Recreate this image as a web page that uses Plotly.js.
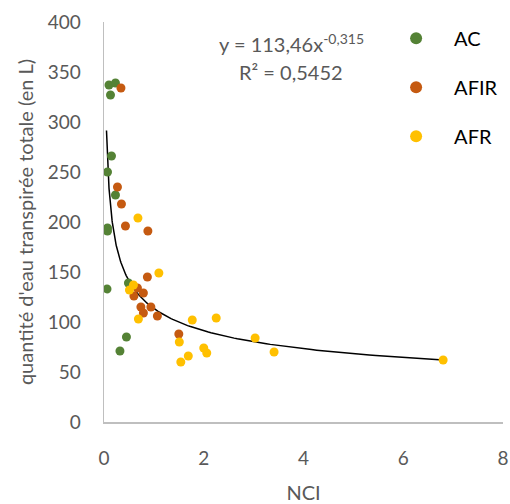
<!DOCTYPE html>
<html>
<head>
<meta charset="utf-8">
<script src="https://cdn.plot.ly/plotly-3.0.1.min.js"></script>
<style>html,body{margin:0;padding:0;background:#fff;}#chart{width:510px;height:504px;}</style>
</head>
<body>
<div id="chart"></div>
<script>
// Series names
const seriesNames = ["AC", "AFIR", "AFR"];
const seriesColors = ["#548235", "#C55A11", "#FFC000"];

// AC (green)
const acNCI = [0.10, 0.23, 0.13, 0.15, 0.07, 0.23, 0.07, 0.07, 0.06, 0.49, 0.45, 0.32];
const acWater = [337, 339, 327, 266, 250, 227, 194, 191, 133, 139, 85, 71];

// AFIR (orange)
const afirNCI = [0.34, 0.27, 0.35, 0.43, 0.88, 0.87, 0.67, 0.79, 0.60, 0.74, 0.94, 0.79, 1.07, 1.50];
const afirWater = [334, 235, 218, 196, 191, 145, 134, 129, 126, 115, 115, 109, 106, 88];

// AFR (yellow)
const afrNCI = [0.68, 1.10, 0.59, 0.51, 0.69, 1.77, 2.25, 1.51, 2.00, 2.06, 1.69, 1.54, 3.03, 3.41, 6.80];
const afrWater = [204, 149, 137, 132, 103, 102, 104, 80, 74, 69, 66, 60, 84, 70, 62];

// Power trendline y = a * x^b (from the chart's equation)
const trendCoef = [113.46, -0.315];
const trendRange = [0.05, 6.80];
const equationText = "y = 113,46x<sup>-0,315</sup>";
const r2Text = "R² = 0,5452";

const xTicks = [0, 2, 4, 6, 8];
const yTicks = [0, 50, 100, 150, 200, 250, 300, 350, 400];

const trendX = [];
const nSteps = 200;
for (let i = 0; i <= nSteps; i++) {
  const t = i / nSteps;
  trendX.push(Math.exp(Math.log(trendRange[0]) + t * (Math.log(trendRange[1]) - Math.log(trendRange[0]))));
}
const trendY = trendX.map(x => trendCoef[0] * Math.pow(x, trendCoef[1]));

const xs = [acNCI, afirNCI, afrNCI];
const ys = [acWater, afirWater, afrWater];

const traces = [{
  x: trendX, y: trendY, mode: "lines", type: "scatter",
  line: {color: "#000000", width: 1.5}, showlegend: false, hoverinfo: "skip"
}];
for (let i = 0; i < 3; i++) {
  traces.push({
    x: xs[i], y: ys[i], mode: "markers", type: "scatter", name: seriesNames[i],
    legendgroup: "g" + i,
    marker: {color: seriesColors[i], size: 9}
  });
}

const FONT = "Lato, 'Open Sans', sans-serif";
const tickFont = {family: FONT, size: 19, color: "#595959"};
const layout = {
  width: 510, height: 504,
  margin: {l: 104, r: 7, t: 22, b: 82, autoexpand: false},
  paper_bgcolor: "#ffffff", plot_bgcolor: "#ffffff",
  font: {family: FONT, color: "#595959"},
  showlegend: true,
  legend: {
    x: 0.687, y: 1.008, xanchor: "left", yanchor: "top",
    font: {family: FONT, size: 20, color: "#000000"},
    bgcolor: "rgba(255,255,255,0)", tracegroupgap: 20, itemwidth: 66,
    traceorder: "grouped", itemsizing: "constant"
  },
  xaxis: {
    range: [0, 8], tickvals: xTicks, ticktext: xTicks.map(String),
    showgrid: false, zeroline: false, showline: true, linecolor: "#BFBFBF", linewidth: 1.5,
    ticks: "", tickfont: tickFont, ticklabelstandoff: 19, automargin: false,
    title: {text: "NCI", font: {family: FONT, size: 20, color: "#595959"}, standoff: 23},
    fixedrange: true
  },
  yaxis: {
    range: [0, 400], tickvals: yTicks, ticktext: yTicks.map(String),
    showgrid: false, zeroline: false, showline: true, linecolor: "#BFBFBF", linewidth: 1.5,
    ticks: "", tickfont: tickFont, ticklabelstandoff: 18, automargin: false,
    title: {text: "quantité d'eau transpirée totale (en L)", font: {family: FONT, size: 20, color: "#595959"}, standoff: 8},
    fixedrange: true
  },
  annotations: [
    {xref: "paper", yref: "paper", x: (291 - 104) / 399, y: (422 - 43) / 400, text: equationText,
     showarrow: false, font: {family: FONT, size: 20, color: "#595959"}, xanchor: "center", yanchor: "middle"},
    {xref: "paper", yref: "paper", x: (291 - 104) / 399, y: (422 - 72) / 400, text: r2Text,
     showarrow: false, font: {family: FONT, size: 20, color: "#595959"}, xanchor: "center", yanchor: "middle"}
  ]
};

Plotly.newPlot("chart", traces, layout, {displayModeBar: false, staticPlot: true});
</script>
</body>
</html>
